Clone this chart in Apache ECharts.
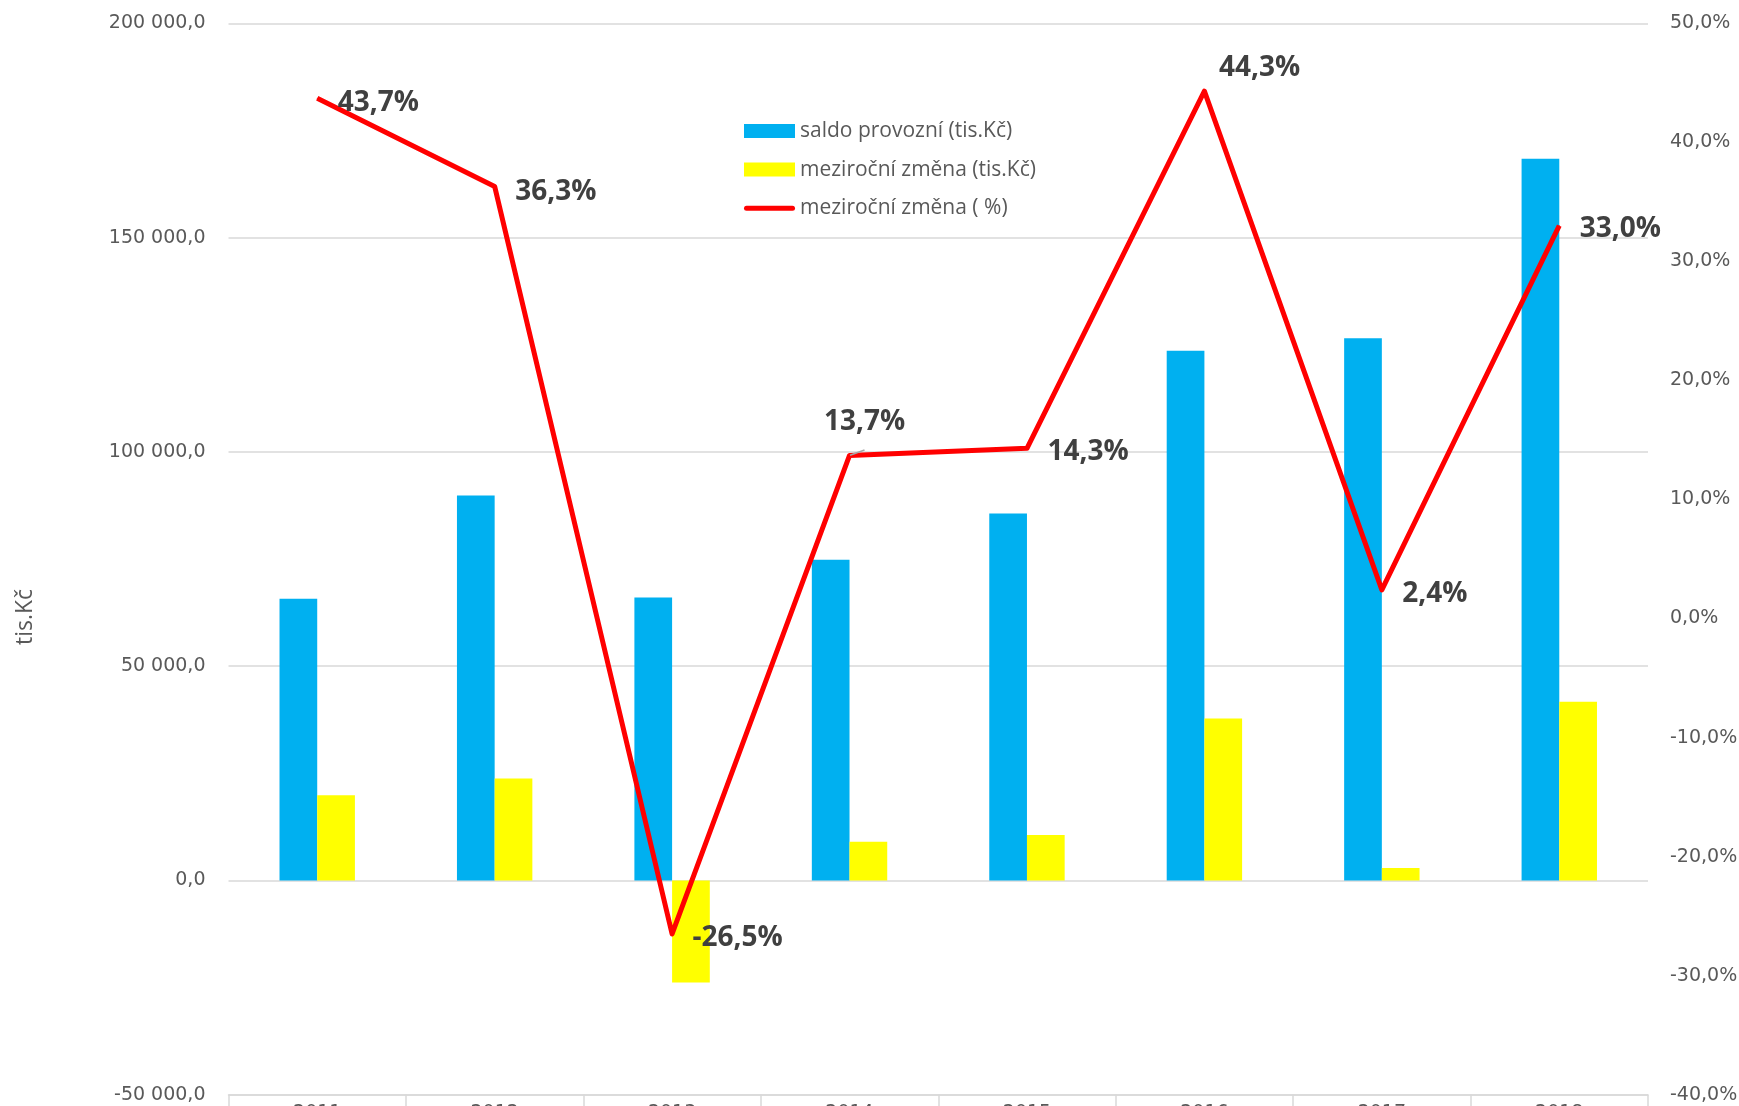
<!DOCTYPE html>
<html>
<head>
<meta charset="utf-8">
<script src="https://cdn.jsdelivr.net/npm/echarts@6/dist/echarts.min.js"></script>
<style>
html,body{margin:0;padding:0;background:#fff;overflow:hidden;}
#chart{width:1739px;height:1106px;}
</style>
</head>
<body>
<div id="chart"></div>
<script>
const categories = ['2011','2012','2013','2014','2015','2016','2017','2018'];
const saldo = [65700, 89800, 66000, 74800, 85600, 123600, 126500, 168400];
const zmena = [19900, 23800, -23800, 9000, 10600, 37800, 2900, 41700];
const zmenaPct = [43.7, 36.3, -26.5, 13.7, 14.3, 44.3, 2.4, 33.0];
const seriesNames = ['saldo provozní (tis.Kč)', 'meziroční změna (tis.Kč)', 'meziroční změna ( %)'];
const leftTicks = {min: -50000, max: 200000, interval: 50000};
const rightTicks = {min: -40, max: 50, interval: 10};

function fmtNum(v) {
  const neg = v < 0;
  let s = Math.abs(v).toFixed(0).replace(/\B(?=(\d{3})+(?!\d))/g, ' ');
  return (neg ? '-' : '') + s + ',0';
}
function fmtPct(v) {
  return v.toFixed(1).replace('.', ',') + '%';
}

const labelBase = {
  show: true, position: 'right', distance: 20,
  fontFamily: 'Open Sans', fontWeight: 'bold', fontSize: 28, color: '#404040',
  formatter: p => fmtPct(p.value)
};
const labelTweaks = [
  {offset: [0, 4.5]},
  {offset: [0, 5.5]},
  {offset: [0, 4.5]},
  {position: 'top', distance: 19, offset: [15, 0]},
  {offset: [0, 3.5]},
  {distance: 14, offset: [0, -23]},
  {offset: [0, 4.5]},
  {offset: [0, 3.5]}
];
const lineData = zmenaPct.map((v, i) => {
  const item = {value: v, label: Object.assign({}, labelTweaks[i])};
  if (i === 3) {
    item.labelLine = {show: true, lineStyle: {color: '#A6A6A6', width: 1.5}};
  }
  return item;
});

const chart = echarts.init(document.getElementById('chart'), null, {renderer: 'canvas'});
chart.setOption({
  animation: false,
  backgroundColor: '#ffffff',
  grid: {left: 228.5, right: 91, top: 23.3, bottom: 11.3, containLabel: false, outerBoundsMode: 'none'},
  legend: {
    orient: 'vertical', left: 744, top: 120.5, padding: 0,
    itemWidth: 51, itemHeight: 14, itemGap: 17.6,
    textStyle: {fontFamily: 'Open Sans', fontSize: 21, color: '#595959'},
    data: [
      {name: seriesNames[0], icon: 'rect'},
      {name: seriesNames[1], icon: 'rect'},
      {name: seriesNames[2], icon: 'path://M2.5,0 L48.5,0 A2.5,2.5 0 0 1 48.5,5 L2.5,5 A2.5,2.5 0 0 1 2.5,0 Z', itemStyle: {color: '#FF0000'}}
    ]
  },
  xAxis: {
    type: 'category', data: categories,
    axisLine: {show: true, onZero: false, lineStyle: {color: '#D9D9D9', width: 1.5}},
    axisTick: {show: true, length: 14, lineStyle: {color: '#D9D9D9', width: 1.5}},
    axisLabel: {margin: 9, fontFamily: 'DejaVu Sans', fontSize: 19, color: '#595959'}
  },
  yAxis: [
    {
      type: 'value', min: leftTicks.min, max: leftTicks.max, interval: leftTicks.interval,
      name: 'tis.Kč', nameLocation: 'middle', nameRotate: 90, nameGap: 192,
      nameTextStyle: {fontFamily: 'Open Sans', fontSize: 23, color: '#595959', padding: [0, 116, 0, 0]},
      axisLine: {show: false}, axisTick: {show: false},
      axisLabel: {margin: 23, fontFamily: 'DejaVu Sans', fontSize: 19, color: '#595959', formatter: v => fmtNum(v)},
      splitLine: {show: true, lineStyle: {color: '#D9D9D9', width: 1.5}}
    },
    {
      type: 'value', position: 'right', min: rightTicks.min, max: rightTicks.max, interval: rightTicks.interval,
      axisLine: {show: false}, axisTick: {show: false},
      axisLabel: {margin: 22, fontFamily: 'DejaVu Sans', fontSize: 19, color: '#595959', formatter: v => fmtPct(v)},
      splitLine: {show: false}
    }
  ],
  series: [
    {
      name: seriesNames[0], type: 'bar', data: saldo, barWidth: 37.7, barGap: '0%',
      itemStyle: {color: '#00B0F0'}
    },
    {
      name: seriesNames[1], type: 'bar', data: zmena, barWidth: 37.7, barGap: '0%',
      itemStyle: {color: '#FFFF00'}
    },
    {
      name: seriesNames[2], type: 'line', yAxisIndex: 1, data: lineData,
      symbol: 'circle', symbolSize: 1, z: 5,
      itemStyle: {color: '#FF0000'},
      lineStyle: {color: '#FF0000', width: 5, join: 'round'},
      label: labelBase
    }
  ]
});
</script>
</body>
</html>
